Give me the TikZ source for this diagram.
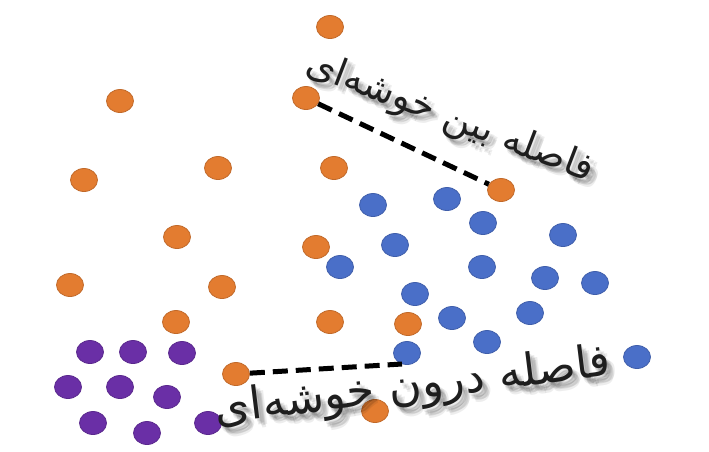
\documentclass[tikz,border=0pt]{standalone}
\usepackage{fontspec}
\newfontfamily\arabicfont[Script=Arabic]{DejaVu Sans}
\TeXXeTstate=1
\usetikzlibrary{shapes.geometric}
\definecolor{dotorange}{HTML}{E37C30}
\definecolor{dotblue}{HTML}{4A6FC8}
\definecolor{dotpurple}{HTML}{6A2FA6}
\definecolor{labelink}{HTML}{1E1E1E}
\newcommand{\toplabel}{\resizebox{305pt}{!}{\arabicfont\beginR فاصله بین خوشه‌ای\endR}}
\newcommand{\botlabel}{\resizebox{398pt}{!}{\arabicfont\beginR فاصله درون خوشه‌ای\endR}}
\tikzset{
  dotbase/.style={ellipse, minimum width=27pt, minimum height=23pt, inner sep=0pt, line width=0.8pt},
  odot/.style={dotbase, fill=dotorange, draw=dotorange!85!black},
  bdot/.style={dotbase, fill=dotblue, draw=dotblue!85!black},
  pdot/.style={dotbase, fill=dotpurple, draw=dotpurple!85!black},
  distline/.style={line width=5pt, dash pattern=on 15pt off 8pt, black},
  lbl/.style={inner sep=0pt, text=labelink},
  shadowlbl/.style={inner sep=0pt, text=black, opacity=0.07}
}
\begin{document}
\begin{tikzpicture}[x=1pt,y=-1pt]
\useasboundingbox[fill=white] (0,0) rectangle (709,451);
% orange
\node[odot] (o1) at (330,27) {};
\node[odot] (o2) at (120,101) {};
\node[odot] (o3) at (306,98) {};
\node[odot] (o4) at (84,180) {};
\node[odot] (o5) at (218,168) {};
\node[odot] (o6) at (334,168) {};
\node[odot] (o7) at (501,190) {};
\node[odot] (o8) at (177,237) {};
\node[odot] (o9) at (316,247) {};
\node[odot] (o10) at (70,285) {};
\node[odot] (o11) at (222,287) {};
\node[odot] (o12) at (176,322) {};
\node[odot] (o13) at (330,322) {};
\node[odot] (o14) at (408,324) {};
\node[odot] (o15) at (236,374) {};
\node[odot] (o16) at (375,411) {};
% blue
\node[bdot] (b1) at (373,205) {};
\node[bdot] (b2) at (447,199) {};
\node[bdot] (b3) at (483,223) {};
\node[bdot] (b4) at (563,235) {};
\node[bdot] (b5) at (395,245) {};
\node[bdot] (b6) at (340,267) {};
\node[bdot] (b7) at (482,267) {};
\node[bdot] (b8) at (545,278) {};
\node[bdot] (b9) at (595,283) {};
\node[bdot] (b10) at (415,294) {};
\node[bdot] (b11) at (530,313) {};
\node[bdot] (b12) at (452,318) {};
\node[bdot] (b13) at (487,342) {};
\node[bdot] (b14) at (407,353) {};
\node[bdot] (b15) at (637,357) {};
% purple
\node[pdot] (p1) at (90,352) {};
\node[pdot] (p2) at (133,352) {};
\node[pdot] (p3) at (182,353) {};
\node[pdot] (p4) at (68,387) {};
\node[pdot] (p5) at (120,387) {};
\node[pdot] (p6) at (167,397) {};
\node[pdot] (p7) at (93,423) {};
\node[pdot] (p8) at (147,433) {};
\node[pdot] (p9) at (208,423) {};
% distance lines
\coordinate (inend) at (402,364);
\draw[distline] (o3) -- (o7);
\draw[distline] (o15) -- (inend);
% label shadows
\foreach \dx/\dy in {2/3,4/5,6/7,3/6,5/4,7/9,8/6} {
  \node[shadowlbl, rotate=-21] at (450+\dx,118+\dy) {\toplabel};
  \node[shadowlbl, rotate=7] at (413+\dx,388+\dy) {\botlabel};
}
% labels
\node[lbl, rotate=-21] (tinter) at (450,118) {\toplabel};
\node[lbl, rotate=7] (tintra) at (413,388) {\botlabel};
\end{tikzpicture}
\end{document}
